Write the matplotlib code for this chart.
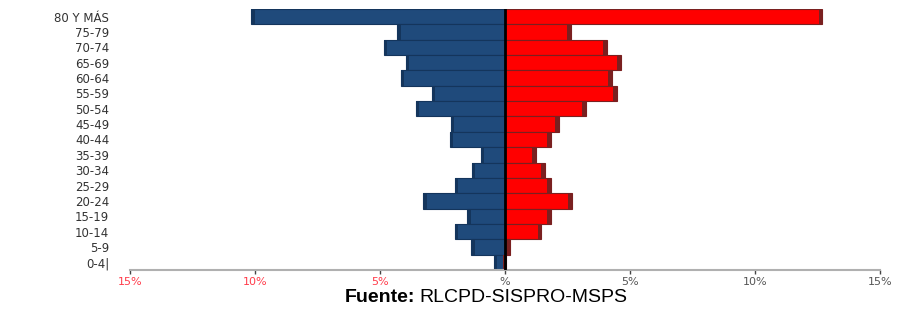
import matplotlib
matplotlib.use("Agg")
import matplotlib.pyplot as plt

# Age groups (top to bottom in the picture) and share of population, in %
groups = ["80 Y MÁS", "75-79", "70-74", "65-69", "60-64", "55-59", "50-54",
          "45-49", "40-44", "35-39", "30-34", "25-29", "20-24", "15-19",
          "10-14", "5-9", "0-4|"]
men = [10.15, 4.3, 4.85, 3.97, 4.16, 2.92, 3.57, 2.17, 2.2, 0.96, 1.33,
       2.0, 3.27, 1.51, 2.0, 1.35, 0.45]
women = [12.7, 2.63, 4.07, 4.63, 4.28, 4.47, 3.23, 2.16, 1.83, 1.23, 1.59,
         1.83, 2.67, 1.83, 1.45, 0.19, 0.05]

xticks = [-15, -10, -5, 0, 5, 10, 15]
xlabels = ["15%", "10%", "5%", "%", "5%", "10%", "15%"]

BLUE, BLUE_DARK = "#1f4a7b", "#14355c"
RED, RED_DARK = "#ff0000", "#7a2020"

fig = plt.figure(figsize=(9.04, 3.09), dpi=100)
ax = fig.add_axes([130 / 904, 1 - 270 / 309, 750 / 904, 261 / 309])

ypos = list(range(len(groups)))[::-1]
shadow = 0.14
ax.barh(ypos, [-m for m in men], height=1.0, color=BLUE,
        edgecolor=BLUE_DARK, linewidth=0.8)
ax.barh(ypos, [-shadow] * len(men), left=[-m + shadow for m in men], height=1.0,
        color=BLUE_DARK, linewidth=0)
ax.barh(ypos, women, height=1.0, color=RED, edgecolor=RED_DARK, linewidth=0.8)
ax.barh(ypos, [shadow] * len(women), left=[w - shadow for w in women], height=1.0,
        color=RED_DARK, linewidth=0)
ax.axvline(0, color="black", lw=2, zorder=5)

ax.set_xlim(-15, 15)
ax.set_ylim(-0.5, len(groups) - 0.5)
for s in ["top", "right", "left"]:
    ax.spines[s].set_visible(False)
ax.spines["bottom"].set_color("#b0b0b0")
ax.spines["bottom"].set_linewidth(1.5)

ax.set_yticks(ypos)
ax.set_yticklabels(groups, fontsize=8.5, color="#333333")
ax.tick_params(axis="y", length=0, pad=15)

ax.set_xticks(xticks)
ax.set_xticklabels(xlabels, fontsize=8)
ax.tick_params(axis="x", length=3, width=1, color="#444444", pad=2)
for t, lab in zip(xticks, ax.get_xticklabels()):
    lab.set_color("#ff3b4a" if t < 0 else "#555555")

fig.text(415 / 904, 1 - 297 / 309, "Fuente:", ha="right", va="center",
         fontsize=14, fontweight="bold", family="Liberation Sans")
fig.text(419 / 904, 1 - 297 / 309, "RLCPD-SISPRO-MSPS", ha="left", va="center",
         fontsize=14, family="Liberation Sans")

fig.savefig("out.png", dpi=100)
